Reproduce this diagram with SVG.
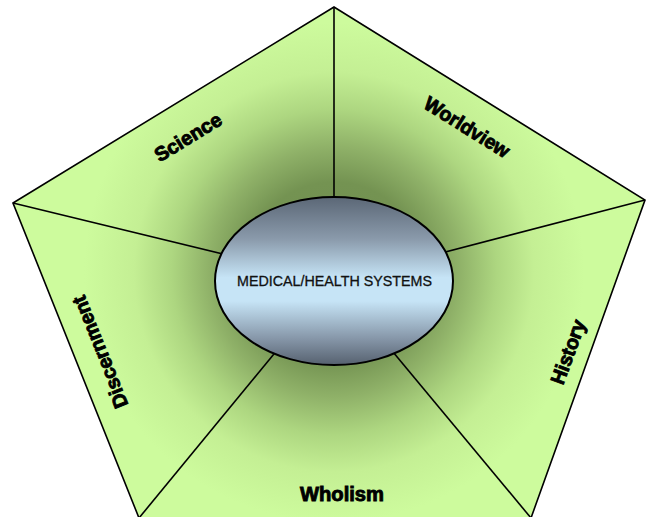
<svg xmlns="http://www.w3.org/2000/svg" width="646" height="517" viewBox="0 0 646 517">
<defs>
<radialGradient id="gGreen" gradientUnits="userSpaceOnUse" cx="334" cy="272" r="250">
<stop offset="0" stop-color="#6e8c4f"/>
<stop offset="0.36" stop-color="#749352"/>
<stop offset="0.5" stop-color="#8fb168"/>
<stop offset="0.65" stop-color="#add680"/>
<stop offset="0.8" stop-color="#c4ef94"/>
<stop offset="1" stop-color="#cdfb9d"/>
</radialGradient>
<linearGradient id="gBlue" x1="0" y1="0" x2="0" y2="1">
<stop offset="0" stop-color="#5b6776"/>
<stop offset="0.25" stop-color="#8a9aab"/>
<stop offset="0.48" stop-color="#c6e4f6"/>
<stop offset="0.62" stop-color="#c6e4f6"/>
<stop offset="0.85" stop-color="#8494a6"/>
<stop offset="1" stop-color="#56616f"/>
</linearGradient>
<style>
.seg{fill:url(#gGreen);stroke:none}
.edge{fill:none;stroke:#000;stroke-width:1.6;stroke-linejoin:miter}
.spoke{stroke:#000;stroke-width:1.6}
.lbl{font-family:"Liberation Sans",Arial,sans-serif;font-weight:bold;font-size:20px;fill:#000;stroke:#000;stroke-width:0.9;text-anchor:middle}
.ctr{font-family:"Liberation Sans",Arial,sans-serif;font-size:14.5px;fill:#111;stroke:#111;stroke-width:0.3;text-anchor:middle}
</style>
</defs>
<rect width="646" height="517" fill="#ffffff"/>
<g id="seg-science">
<polygon class="seg" points="13,203 334,7 334,281"/>
<text class="lbl" transform="translate(188,137) rotate(-31.5)" x="0" y="7" textLength="75" lengthAdjust="spacingAndGlyphs">Science</text>
</g>
<g id="seg-worldview">
<polygon class="seg" points="334,7 645,200 334,281"/>
<text class="lbl" transform="translate(467,127) rotate(32)" x="0" y="7" textLength="97" lengthAdjust="spacingAndGlyphs">Worldview</text>
</g>
<g id="seg-history">
<polygon class="seg" points="645,200 531,518 334,281"/>
<text class="lbl" transform="translate(568,352) rotate(-70)" x="0" y="7" textLength="67" lengthAdjust="spacingAndGlyphs">History</text>
</g>
<g id="seg-wholism">
<polygon class="seg" points="531,518 139,518 334,281"/>
<text class="lbl" x="342" y="501" textLength="84" lengthAdjust="spacingAndGlyphs">Wholism</text>
</g>
<g id="seg-discernment">
<polygon class="seg" points="139,518 13,203 334,281"/>
<text class="lbl" transform="translate(100,352) rotate(-111.8)" x="0" y="7" textLength="119" lengthAdjust="spacingAndGlyphs">Discernment</text>
</g>
<polygon class="edge" points="13,203 334,7 645,200 531,518 139,518"/>
<g id="connectors">
<line class="spoke" x1="334" y1="7" x2="334" y2="281"/>
<line class="spoke" x1="645" y1="200" x2="334" y2="281"/>
<line class="spoke" x1="531" y1="518" x2="334" y2="281"/>
<line class="spoke" x1="139" y1="518" x2="334" y2="281"/>
<line class="spoke" x1="13" y1="203" x2="334" y2="281"/>
</g>
<g id="center">
<ellipse cx="334" cy="281" rx="119" ry="84" fill="url(#gBlue)" stroke="#000" stroke-width="2"/>
<text class="ctr" x="334.5" y="286" textLength="195" lengthAdjust="spacingAndGlyphs">MEDICAL/HEALTH SYSTEMS</text>
</g>
</svg>
